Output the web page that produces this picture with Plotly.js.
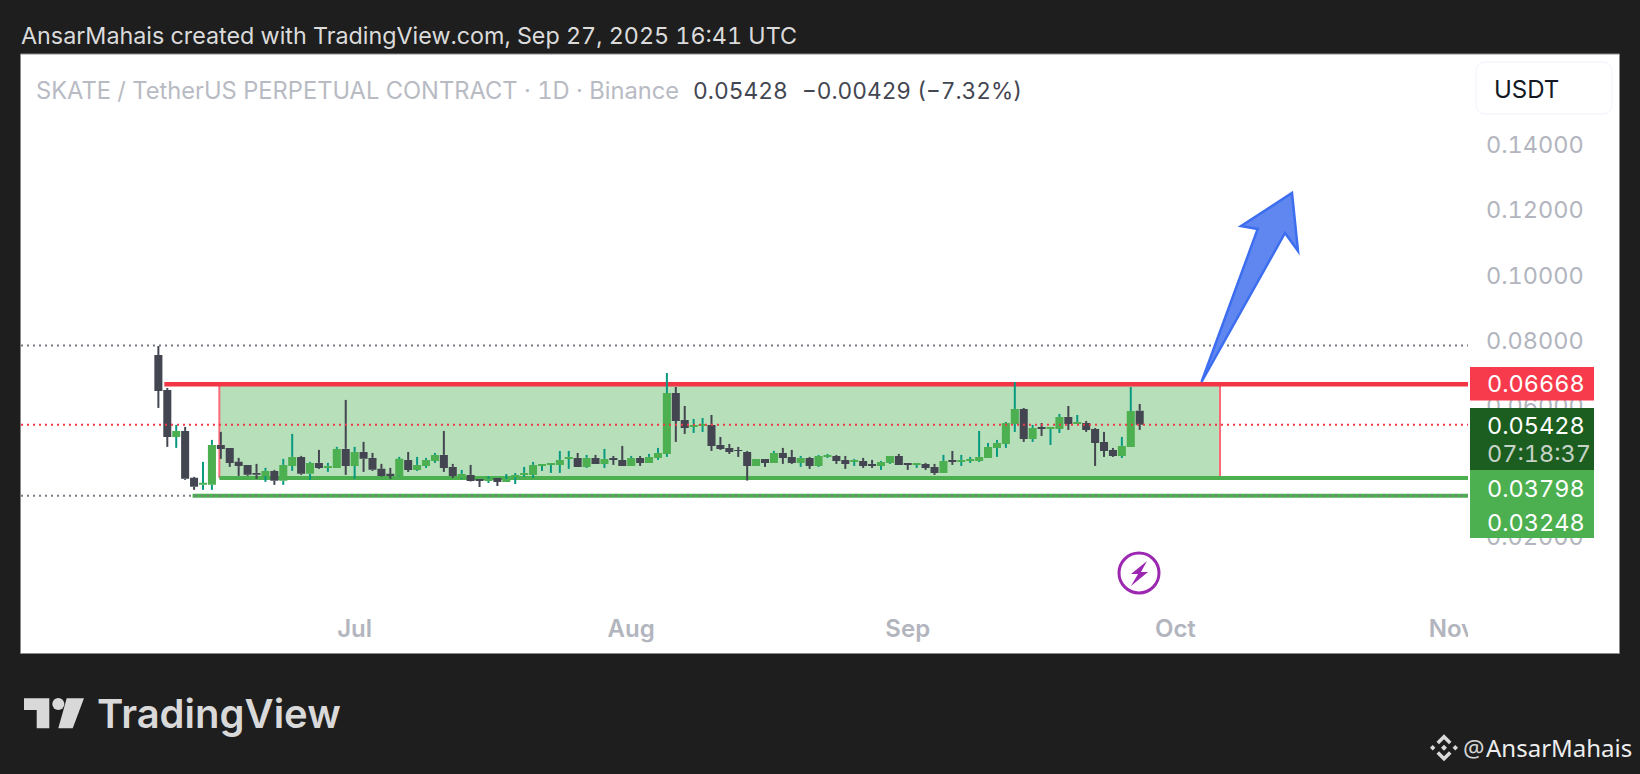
<!DOCTYPE html>
<html>
<head>
<meta charset="utf-8">
<script src="https://cdn.plot.ly/plotly-3.0.1.min.js"></script>
<style>html,body{margin:0;padding:0;background:#1e1e1e;overflow:hidden}#c{width:1640px;height:774px}svg text{font-variant-numeric:tabular-nums;font-feature-settings:"tnum" 1}</style>
</head>
<body>
<div id="c"></div>
<script>
const dates = ["2025-06-09","2025-06-10","2025-06-11","2025-06-12","2025-06-13","2025-06-14","2025-06-15","2025-06-16","2025-06-17","2025-06-18","2025-06-19","2025-06-20","2025-06-21","2025-06-22","2025-06-23","2025-06-24","2025-06-25","2025-06-26","2025-06-27","2025-06-28","2025-06-29","2025-06-30",
"2025-07-01","2025-07-02","2025-07-03","2025-07-04","2025-07-05","2025-07-06","2025-07-07","2025-07-08","2025-07-09","2025-07-10","2025-07-11","2025-07-12","2025-07-13","2025-07-14","2025-07-15","2025-07-16","2025-07-17","2025-07-18","2025-07-19","2025-07-20","2025-07-21","2025-07-22","2025-07-23","2025-07-24","2025-07-25","2025-07-26","2025-07-27","2025-07-28","2025-07-29","2025-07-30","2025-07-31",
"2025-08-01","2025-08-02","2025-08-03","2025-08-04","2025-08-05","2025-08-06","2025-08-07","2025-08-08","2025-08-09","2025-08-10","2025-08-11","2025-08-12","2025-08-13","2025-08-14","2025-08-15","2025-08-16","2025-08-17","2025-08-18","2025-08-19","2025-08-20","2025-08-21","2025-08-22","2025-08-23","2025-08-24","2025-08-25","2025-08-26","2025-08-27","2025-08-28","2025-08-29","2025-08-30","2025-08-31",
"2025-09-01","2025-09-02","2025-09-03","2025-09-04","2025-09-05","2025-09-06","2025-09-07","2025-09-08","2025-09-09","2025-09-10","2025-09-11","2025-09-12","2025-09-13","2025-09-14","2025-09-15","2025-09-16","2025-09-17","2025-09-18","2025-09-19","2025-09-20","2025-09-21","2025-09-22","2025-09-23","2025-09-24","2025-09-25","2025-09-26","2025-09-27"];

const open = [.07563,.06492,.05054,.05237,.03799,.03585,.03585,.04809,.04717,.04289,.04197,.03952,.03860,.04013,.03707,.04166,.04442,.03922,.04258,.04105,.04105,.04687,
.04166,.04595,.04411,.04075,.03922,.03860,.04349,.04043,.04165,.04318,.04502,.04135,.03795,.03890,.03764,.03703,.03795,.03672,.03825,.03890,.03890,.04165,.04196,.04196,.04380,.04410,.04135,.04410,.04227,.04410,.04349,
.04165,.04410,.04257,.04410,.04533,.06399,.05573,.05359,.05389,.05420,.04808,.04716,.04655,.04594,.04165,.04380,.04257,.04563,.04441,.04257,.04410,.04165,.04441,.04471,.04349,.04288,.04318,.04227,.04165,.04257,.04471,
.04257,.04196,.04227,.04135,.03951,.04349,.04288,.04318,.04318,.04410,.04716,.04839,.05451,.05910,.04992,.05359,.05298,.05298,.05665,.05451,.05481,.05298,.04900,.04655,.04471,.04747,.05857];
const high = [.07838,.06553,.05421,.05360,.03830,.04289,.04962,.05207,.04717,.04411,.04197,.04228,.04105,.04044,.04381,.05146,.04472,.04289,.04656,.04258,.04748,.06186,
.04748,.04901,.04564,.04228,.04105,.04442,.04594,.04441,.04410,.04563,.05236,.04227,.04043,.04196,.03764,.03856,.03795,.03917,.03948,.04135,.04288,.04227,.04257,.04624,.04624,.04563,.04502,.04502,.04686,.04471,.04777,
.04471,.04471,.04533,.04716,.07011,.06583,.06001,.05604,.05634,.05726,.05053,.04839,.04747,.04624,.04380,.04380,.04624,.04716,.04655,.04471,.04441,.04502,.04533,.04502,.04471,.04380,.04410,.04349,.04318,.04471,.04533,
.04257,.04257,.04257,.04227,.04502,.04624,.04502,.04441,.05236,.04869,.04961,.05512,.06736,.05940,.05420,.05481,.05359,.05757,.06001,.05726,.05542,.05328,.05206,.04716,.05053,.06583,.06063];
const low = [.05941,.04748,.04717,.03738,.03432,.03432,.03432,.04381,.04136,.03860,.03860,.03769,.03677,.03585,.03585,.04013,.03891,.03738,.04075,.03983,.04105,.03891,
.03769,.03983,.04013,.03840,.03769,.03840,.03982,.04012,.04104,.04257,.03982,.03795,.03764,.03690,.03519,.03642,.03550,.03672,.03611,.03829,.03798,.04012,.03951,.03951,.04074,.04135,.04104,.04227,.04104,.04196,.04165,
.04165,.04165,.04257,.04349,.04441,.04900,.05145,.05175,.05206,.04624,.04655,.04533,.04441,.03717,.04165,.04135,.04257,.04227,.04227,.04135,.04074,.04135,.04410,.04227,.04074,.04165,.04104,.04104,.04043,.04227,.04196,
.04043,.04104,.04043,.03890,.03951,.04196,.04165,.04257,.04288,.04410,.04441,.04716,.05206,.04900,.04900,.05083,.04808,.05175,.05267,.05451,.05206,.04165,.04441,.04441,.04410,.04747,.05267];
const close = [.06461,.05054,.05237,.03769,.03524,.03646,.04809,.04687,.04258,.04166,.03891,.03891,.04013,.03707,.04197,.04442,.03922,.04258,.04105,.04166,.04687,.04166,
.04595,.04381,.04044,.03860,.03860,.04381,.04043,.04196,.04349,.04502,.04104,.03856,.03921,.03703,.03703,.03764,.03672,.03764,.03887,.03951,.04196,.04227,.04257,.04349,.04441,.04135,.04410,.04227,.04380,.04349,.04165,
.04410,.04257,.04441,.04563,.06399,.05542,.05328,.05420,.05451,.04777,.04686,.04594,.04624,.04165,.04380,.04257,.04563,.04410,.04257,.04410,.04165,.04471,.04502,.04318,.04227,.04349,.04165,.04165,.04288,.04471,.04196,
.04196,.04257,.04104,.03951,.04318,.04288,.04349,.04380,.04441,.04747,.04869,.05481,.05910,.04992,.05328,.05298,.05359,.05665,.05451,.05512,.05267,.04869,.04624,.04471,.04777,.05848,.05428];

const levelRed = 0.06668, levelGreenHigh = 0.03798, levelGreenLow = 0.03248, levelLast = 0.05428, levelTop = 0.0785;
const yTicks = [0.14,0.12,0.10,0.08,0.06,0.04,0.02];
const xTicks = ["2025-07-01","2025-08-01","2025-09-01","2025-10-01","2025-11-01"];
const xTickText = ["Jul","Aug","Sep","Oct","Nov"];

const FONT = 'Inter, "Noto Sans", sans-serif';
const PL = 21, PR = 1468, PT = 54, PB = 612;
const fx = p => (p - PL) / (PR - PL);
const fy = p => (PB - p) / (PB - PT);
const poly = pts => 'M ' + pts.map(p => fx(p[0]) + ' ' + fy(p[1])).join(' L ') + ' Z';
const paperShape = (o) => Object.assign({xref:'paper', yref:'paper'}, o);
const rectPx = (x0,y0,x1,y1,fill,extra) => paperShape(Object.assign({type:'rect', x0:fx(x0), x1:fx(x1), y0:fy(y1), y1:fy(y0), fillcolor:fill, line:{width:0}, layer:'above'}, extra||{}));
const pathPx = (pts,fill,extra) => paperShape(Object.assign({type:'path', path:poly(pts), fillcolor:fill, line:{width:0}, layer:'above'}, extra||{}));
const circlePx = (cx,cy,r,fill,extra) => paperShape(Object.assign({type:'circle', x0:fx(cx-r), x1:fx(cx+r), y0:fy(cy+r), y1:fy(cy-r), fillcolor:fill, line:{width:0}, layer:'above'}, extra||{}));
const roundRect = (x0,y0,x1,y1,r) => {
  const P=(x,y)=>fx(x)+' '+fy(y);
  return 'M '+P(x0+r,y0)+' L '+P(x1-r,y0)+' Q '+P(x1,y0)+' '+P(x1,y0+r)+' L '+P(x1,y1-r)+' Q '+P(x1,y1)+' '+P(x1-r,y1)+' L '+P(x0+r,y1)+' Q '+P(x0,y1)+' '+P(x0,y1-r)+' L '+P(x0,y0+r)+' Q '+P(x0,y0)+' '+P(x0+r,y0)+' Z';
};
const text = (t,x,y,size,color,extra) => Object.assign({text:t, xref:'paper', yref:'paper', x:fx(x), y:fy(y), xanchor:'left', yanchor:'middle', showarrow:false, borderpad:0, font:{family:FONT, size:size, color:color}}, extra||{});

// wick segments outside the body, split by candle direction
const wickUpX=[], wickUpY=[], wickDnX=[], wickDnY=[];
dates.forEach((d,i)=>{
  const top=Math.max(open[i],close[i]), bot=Math.min(open[i],close[i]);
  const X = close[i]>=open[i] ? wickUpX : wickDnX, Y = close[i]>=open[i] ? wickUpY : wickDnY;
  X.push(d,d,null,d,d,null); Y.push(low[i],bot,null,top,high[i],null);
});

const traces = [
 {type:'candlestick', x:dates, open:open, high:high, low:low, close:close, whiskerwidth:0,
  increasing:{line:{color:'#4CAF50',width:0}, fillcolor:'#4CAF50'},
  decreasing:{line:{color:'#434651',width:0}, fillcolor:'#434651'}, hoverinfo:'skip', showlegend:false},
 {type:'scatter', mode:'lines', x:wickUpX, y:wickUpY, line:{color:'#089981',width:2}, hoverinfo:'skip', showlegend:false},
 {type:'scatter', mode:'lines', x:wickDnX, y:wickDnY, line:{color:'#434651',width:2}, hoverinfo:'skip', showlegend:false}
];

const boxL="2025-06-15 20:00", boxR="2025-10-06", lineEnd="2025-11-02 19:12";
const dataLine = (x0,x1,y,color,w,dash,layer) => ({type:'line', xref:'x', yref:'y', x0:x0, x1:x1, y0:y, y1:y, line:{color:color,width:w,dash:dash||'solid'}, layer:layer||'below'});

const shapes = [
 rectPx(20.5,54,1619.5,653.5,'#FFFFFF',{layer:'below', line:{color:'#8a8a8a',width:1}}),
 {type:'rect', xref:'x', yref:'y', x0:boxL, x1:boxR, y0:levelGreenHigh, y1:levelRed, fillcolor:'#B7DFB9', line:{width:0}, layer:'below'},
 {type:'line', xref:'x', yref:'y', x0:boxL, x1:boxL, y0:levelGreenHigh, y1:levelRed, line:{color:'#FB6A78',width:2}, layer:'below'},
 {type:'line', xref:'x', yref:'y', x0:boxR, x1:boxR, y0:levelGreenHigh, y1:levelRed, line:{color:'#FB6A78',width:2}, layer:'below'},
 dataLine("2025-06-09 16:00",lineEnd,levelRed,'#F23645',4.5),
 dataLine(boxL,lineEnd,levelGreenHigh,'#4CAF50',4),
 dataLine("2025-06-12 20:00",lineEnd,levelGreenLow,'#4CAF50',4),
 dataLine("2025-05-24 14:24",lineEnd,levelTop,'#787B86',2,'2px,4px','above'),
 dataLine("2025-05-24 14:24",lineEnd,levelGreenLow,'#787B86',2,'2px,4px','above'),
 dataLine("2025-05-24 14:24",lineEnd,levelLast,'#F23645',2,'2px,4px','above'),
 // arrow
 pathPx([[1201.5,382],[1257.7,229],[1241,226],[1292,193],[1298,251],[1285,233]],'#5F87EF',{line:{color:'#3D6EF0',width:2.5}}),
 // lightning badge
 circlePx(1139,573,20,'#FFFFFF',{line:{color:'#9C27B0',width:3}}),
 pathPx([[1147,561],[1131,574],[1138,574],[1131,586],[1148,572],[1141,572]],'#9C27B0'),
 // mask for clipped Nov label
 rectPx(1468,613,1618.5,652.5,'#FFFFFF'),
 // price tags
 rectPx(1470,367,1594,400.5,'#F73B4C'),
 rectPx(1470,408,1594,470,'#1B5E20'),
 rectPx(1470,470,1594,538,'#4CAF50'),
 // USDT box
 paperShape({type:'path', path:roundRect(1476,62,1612,114,10), fillcolor:'#FFFFFF', line:{color:'#F0F3FA',width:1}, layer:'above'}),
 // TradingView logo
 pathPx([[24,698.3],[49.3,698.3],[49.3,728.3],[36.7,728.3],[36.7,710],[24,710]],'#D9D9D9'),
 circlePx(58.3,704,6,'#D9D9D9'),
 pathPx([[66.7,698.3],[84,698.3],[72.7,728.3],[58.3,728.3]],'#D9D9D9'),
 // Binance mark
 pathPx([[1444,734.3],[1451.5,741.8],[1449,744.3],[1444,739.3],[1439,744.3],[1436.5,741.8]],'#DADADA'),
 pathPx([[1444,761.3],[1451.5,753.8],[1449,751.3],[1444,756.3],[1439,751.3],[1436.5,753.8]],'#DADADA'),
 pathPx([[1444,744.7],[1447,747.7],[1444,750.7],[1441,747.7]],'#DADADA'),
 pathPx([[1432.7,745],[1435.4,747.7],[1432.7,750.4],[1430,747.7]],'#DADADA'),
 pathPx([[1455.3,745],[1458,747.7],[1455.3,750.4],[1452.6,747.7]],'#DADADA')
];

const annotations = [
 text('AnsarMahais created with TradingView.com, Sep 27, 2025 16:41 UTC',19.5,35.5,23.3,'#DBDBDB'),
 text('SKATE / TetherUS PERPETUAL CONTRACT · 1D · Binance',34.5,90,23.7,'#B8BBC3'),
 text('0.05428',692,90,22.8,'#434651'),
 text('−0.00429 (−7.32%)',801,90,22.7,'#434651'),
 text('USDT',1493,89,24,'#131722'),
 text('0.06668',1486,384,23.5,'#FFFFFF'),
 text('0.05428',1486,425,23.5,'#FFFFFF'),
 text('07:18:37',1486,453,23.5,'#C6D2C6'),
 text('0.03798',1486,488,23.5,'#FFFFFF'),
 text('0.03248',1486,522,23.5,'#FFFFFF'),
 text('TradingView',96,713,40,'#D9D9D9',{font:{family:FONT,size:40,color:'#D9D9D9',weight:600}}),
 text('@',1462,747,24,'#D4D4D4',{font:{family:'"Noto Sans"',size:24,color:'#D4D4D4'}}),
 text('AnsarMahais',1485,747,24,'#EDEDED',{font:{family:'"Noto Sans"',size:24,color:'#EDEDED'}})
];

const layout = {
 width:1640, height:774, autosize:false,
 paper_bgcolor:'#1E1E1E', plot_bgcolor:'rgba(0,0,0,0)',
 margin:{l:PL, r:1640-PR, t:PT, b:774-PB, pad:0},
 showlegend:false, boxmode:'group', boxgap:0.1, boxgroupgap:0,
 font:{family:FONT},
 xaxis:{type:'date', range:["2025-05-24 14:24","2025-11-02 19:12"], tickmode:'array', tickvals:xTicks, ticktext:xTickText,
   showgrid:false, zeroline:false, showline:false, ticks:'', rangeslider:{visible:false},
   tickfont:{family:FONT,size:24,color:'#B2B5BE',weight:600}, ticklabelstandoff:0},
 yaxis:{side:'right', range:[-0.00309,0.16781], tickmode:'array', tickvals:yTicks, tickformat:'.5f',
   showgrid:false, zeroline:false, showline:false, ticks:'',
   tickfont:{family:FONT,size:23.5,color:'#B2B5BE'}, ticklabelstandoff:17},
 shapes:shapes, annotations:annotations
};
Plotly.newPlot('c', traces, layout, {staticPlot:true, displayModeBar:false});
</script>
</body>
</html>
